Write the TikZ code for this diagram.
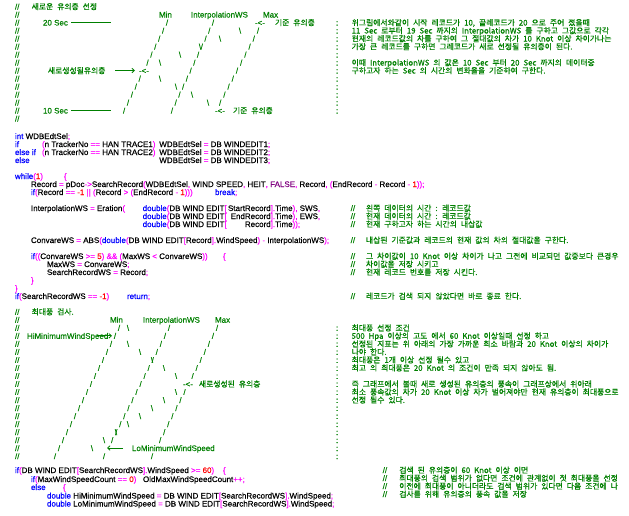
\documentclass[tikz,border=0pt]{standalone}
\usepackage{fontspec}
\setmainfont{Liberation Sans}[FakeBold=0.3]
\newfontfamily\kr{Noto Sans CJK KR}[FakeBold=0.6]
\usetikzlibrary{arrows.meta}
\definecolor{cgr}{RGB}{0,128,0}
\definecolor{cbl}{RGB}{0,0,255}
\definecolor{cmg}{RGB}{255,0,255}
\definecolor{crd}{RGB}{255,0,0}
\definecolor{cpu}{RGB}{128,0,128}
\newcommand\kw[1]{\textcolor{cbl}{#1}}
\newcommand\opr[1]{\textcolor{cmg}{#1}}
\newcommand\nm[1]{\textcolor{crd}{#1}}
\newcommand\pu[1]{\textcolor{cpu}{#1}}
\newcommand\krsp{\spaceskip=4pt plus 1pt\relax}
\tikzset{
 code/.style={anchor=base west, inner sep=0pt, outer sep=0pt, font=\fontsize{8}{9}\selectfont, text=black},
 grn/.style={code, text=cgr},
 kor/.style={code, text=cgr, font=\kr\fontsize{7.8}{9}\selectfont\krsp},
 sl/.style={anchor=base, inner sep=0pt, outer sep=0pt, text=cgr, font=\fontsize{8}{9}\selectfont},
 rl/.style={draw=cgr, line width=0.8pt},
 ra/.style={rl, -{Straight Barb[length=2.5pt,width=4.5pt]}},
}
\begin{document}
\begin{tikzpicture}[x=1pt,y=-1pt]
\fill[white] (0,0) rectangle (629,515);
\useasboundingbox (0,0) rectangle (629,515);

% ---------------- section 1 : diagram ----------------
\foreach \i in {0,...,14} \node[grn] (ca\i) at (15,{9.5+8*\i}) {//};
\node[kor] (t0) at (31.7,9.5) {새로운 유의층 선정};
\node[grn] (lmin1) at (159,17.5) {Min};
\node[grn] (lint1) at (191,17.5) {InterpolationWS};
\node[grn] (lmax1) at (263,17.5) {Max};
\node[grn] (s20) at (43,25.5) {20 Sec};
\coordinate (s20a) at (71,22.5); \coordinate (s20b) at (111,22.5);
\draw[rl] (s20a) -- (s20b);
\node[grn] (ar1) at (255,25.5) {-<-};
\node[kor] (k1) at (275,25.5) {기준 유의층};
\node[kor] (k2) at (48,73.5) {새로생성될유의층};
\coordinate (a2a) at (115,70.5); \coordinate (a2b) at (135,70.5);
\draw[ra] (a2a) -- (a2b);
\node[grn] (ar2) at (139,73.5) {-<-};
\node[grn] (s10) at (43,113.5) {10 Sec};
\coordinate (s10a) at (71,110.5); \coordinate (s10b) at (111,110.5);
\draw[rl] (s10a) -- (s10b);
\node[grn] (ar3) at (215,113.5) {-<-};
\node[kor] (k3) at (233,113.5) {기준 유의층};
\foreach \i in {2,3,4,5,6,7,9,10,11,12,13}
  \node[sl] (mn\i) at ({167-(\i-2)*3.9},{9.5+8*\i}) {/};
\foreach \i in {2,...,13}
  \node[sl] (it\i) at ({213-(\i-2)*3.73},{9.5+8*\i}) {/};
\foreach \i in {3,...,12}
  \node[sl] (mx\i) at ({258-(\i-3)*4.2},{9.5+8*\i}) {/};
\foreach \i in {3,...,7}
  \node[sl] (bu\i) at ({240-(\i-3)*20},{9.5+8*\i}) {\textbackslash};
\foreach \i in {9,...,12}
  \node[sl] (bl\i) at ({160+(\i-9)*16},{9.5+8*\i}) {\textbackslash};
\foreach \i in {2,...,13} \node[grn] (cc\i) at (336,{9.5+8*\i}) {:};
\node[kor] (e2) at (351.7,25.5) {위그림에서와같이 시작 레코드가 10, 끝레코드가 20 으로 주어 졌을때};
\node[kor] (e3) at (351.7,33.5) {11 Sec 로부터 19 Sec 까지의 InterpolationWS 를 구하고 그값으로 각각};
\node[kor] (e4) at (351.7,41.5) {현재의 레코드값의 차를 구하여 그 절대값의 차가 10 Knot 이상 차이가나는};
\node[kor] (e5) at (351.7,49.5) {가장 큰 레코드를 구하면 그레코드가 새로 선정될 유의층이 된다.};
\node[kor] (e7) at (351.7,65.5) {이때 InterpolationWS 의 값은 10 Sec 부터 20 Sec 까지의 데이터중};
\node[kor] (e8) at (351.7,73.5) {구하고자 하는 Sec 의 시간의 변화율을 기준하여 구한다.};

% ---------------- section 2 : code ----------------
\node[code] (c16) at (15,139) {\kw{int} WDBEdtSel\opr{;}};
\node[code] (c17a) at (15,147) {\kw{if}};
\node[code] (c17b) at (42,147) {\opr{(}n TrackerNo \opr{==} HAN TRACE1\opr{)}};
\node[code] (c17c) at (159.3,147) {WDBEdtSel \opr{=} DB WINDEDIT1\opr{;}};
\node[code] (c18a) at (15,155) {\kw{else if}};
\node[code] (c18b) at (42,155) {\opr{(}n TrackerNo \opr{==} HAN TRACE2\opr{)}};
\node[code] (c18c) at (159.3,155) {WDBEdtSel \opr{=} DB WINDEDIT2\opr{;}};
\node[code] (c19a) at (15,163) {\kw{else}};
\node[code] (c19c) at (159.3,163) {WDBEdtSel \opr{=} DB WINDEDIT3\opr{;}};

\node[code] (c21a) at (15,179) {\kw{while}\opr{(}\nm{1}\opr{)}};
\node[code] (c21b) at (64,179) {\opr{\{}};
\node[code] (c22) at (31,187) {Record \opr{=} pDoc\opr{->}SearchRecord\opr{(}WDBEdtSel\opr{,} WIND SPEED\opr{,} HEIT\opr{,} \pu{FALSE}\opr{,} Record\opr{,} \opr{(}EndRecord \opr{-} Record \opr{-} \nm{1}\opr{));}};
\node[code] (c23a) at (31,195) {\kw{if}\opr{(}Record \opr{==} \nm{-1} \opr{||} \opr{(}Record \opr{>} \opr{(}EndRecord \opr{-} \nm{1}\opr{)))}};
\node[code] (c23b) at (215,195) {\kw{break}\opr{;}};

\node[code] (c25a) at (31,211) {InterpolationWS \opr{=} Eration\opr{(}};
\node[code] (c25b) at (142.7,211) {\kw{double}\opr{(}DB WIND EDIT\opr{[}};
\node[code,anchor=base east] (c25c) at (270.7,211) {StartRecord};
\node[code] (c25d) at (270.7,211) {\opr{].}Time\opr{),} SWS\opr{,}};
\node[code] (c26b) at (142.7,219) {\kw{double}\opr{(}DB WIND EDIT\opr{[}};
\node[code,anchor=base east] (c26c) at (270.7,219) {EndRecord};
\node[code] (c26d) at (270.7,219) {\opr{].}Time\opr{),} EWS\opr{,}};
\node[code] (c27b) at (142.7,227) {\kw{double}\opr{(}DB WIND EDIT\opr{[}};
\node[code,anchor=base east] (c27c) at (270.7,227) {Record};
\node[code] (c27d) at (270.7,227) {\opr{].}Time\opr{));}};

\node[code] (c29) at (31,243) {ConvareWS \opr{=} ABS\opr{(}\kw{double}\opr{(}DB WIND EDIT\opr{[}Record\opr{].}WindSpeed\opr{)} \opr{-} InterpolationWS\opr{);}};
\node[code] (c31a) at (31,259) {\kw{if}\opr{((}ConvareWS \opr{>=} \nm{5}\opr{)} \opr{\&\&} \opr{(}MaxWS \opr{<} ConvareWS\opr{))}};
\node[code] (c31b) at (223,259) {\opr{\{}};
\node[code] (c32) at (47,267) {MaxWS \opr{=} ConvareWS\opr{;}};
\node[code] (c33) at (47,275) {SearchRecordWS \opr{=} Record\opr{;}};
\node[code] (c34) at (31,283) {\opr{\}}};
\node[code] (c35) at (15,291) {\opr{\}}};
\node[code] (c36a) at (15,299) {\kw{if}\opr{(}SearchRecordWS \opr{==} \nm{-1}\opr{)}};
\node[code] (c36b) at (127,299) {\kw{return}\opr{;}};

\foreach \r/\t in {211/왼쪽 데이터의 시간 : 레코드값,
                   219/현재 데이터의 시간 : 레코드값,
                   227/현재 구하고자 하는 시간의 내삽값,
                   243/내삽된 기준값과 레코드의 현재 값의 차의 절대값을 구한다.,
                   259/그 차이값이 10 Knot 이상 차이가 나고 그전에 비교되던 값중보다 큰경우,
                   267/차이값을 저장 시키고,
                   275/현재 레코드 번호를 저장 시킨다.,
                   299/레코드가 검색 되지 않았다면 바로 종료 한다.}
  {\node[grn] (cs\r) at (350.7,\r) {//};
   \node[kor] (ct\r) at (366,\r) {\t};}

% ---------------- section 3 : diagram ----------------
\foreach \i in {38,...,56} \node[grn] (cb\i) at (15,{314.7+8.02*(\i-38)}) {//};
\node[kor] (t38) at (31.7,314.7) {최대풍 검사.};
\node[grn] (lmin3) at (110,322.7) {Min};
\node[grn] (lint3) at (143,322.7) {InterpolationWS};
\node[grn] (lmax3) at (215,322.7) {Max};
\node[grn] (hmw) at (27,338.8) {HiMinimumWindSpeed};
\coordinate (h1) at (97,335.8); \coordinate (h2) at (112,335.8);
\draw[ra] (h1) -- (h2);
\node[grn] (ar4) at (183,386.9) {-<-};
\node[kor] (k4) at (199,386.9) {새로생성된 유의층};
\coordinate (l1) at (123,448); \coordinate (l2) at (107,448);
\draw[ra] (l1) -- (l2);
\node[grn] (lmw) at (132,451) {LoMinimumWindSpeed};
\foreach \i in {40,...,56}
  \node[sl] (mm\i) at ({119-(\i-40)*4},{314.7+8.02*(\i-38)}) {/};
\foreach \i in {40,...,54,56}
  \node[sl] (ii\i) at ({169-(\i-40)*4.06},{314.7+8.02*(\i-38)}) {/};
\foreach \i in {40,...,46,48,49,50,51,52,53,54,56}
  \node[sl] (xx\i) at ({217-(\i-40)*4.06},{314.7+8.02*(\i-38)}) {/};
\node[sl] (bb40) at (128,330.8) {\textbackslash};
\foreach \i in {42,...,46}
  \node[sl] (bd\i) at ({128+(\i-42)*12},{314.7+8.02*(\i-38)}) {\textbackslash};
\foreach \i in {48,...,55}
  \node[sl] (be\i) at ({176-(\i-48)*12},{314.7+8.02*(\i-38)}) {\textbackslash};
\foreach \i in {40,...,56} \node[grn] (cd\i) at (336,{314.7+8.02*(\i-38)}) {:};
\node[kor] (f40) at (351.7,330.8) {최대풍 선정 조건};
\node[kor] (f41) at (351.7,338.8) {500 Hpa 이상의 고도 에서 60 Knot 이상일때 선정 하고};
\node[kor] (f42) at (351.7,346.8) {선정된 지표는 위 아래의 가장 가까운 최소 바람과 20 Knot 이상의 차이가};
\node[kor] (f43) at (351.7,354.8) {나야 한다.};
\node[kor] (f44) at (351.7,362.8) {최대풍은 1개 이상 선정 될수 있고};
\node[kor] (f45) at (351.7,370.8) {최고 의 최대풍은 20 Knot 의 조건이 만족 되지 않아도 됨.};
\node[kor] (f47) at (351.7,386.9) {즉 그래프에서 볼때 새로 생성된 유의층의 풍속이 그래프상에서 위아래};
\node[kor] (f48) at (351.7,394.9) {최소 풍속값의 차가 20 Knot 이상 차가 벌어져야만 현재 유의층이 최대풍으로};
\node[kor] (f49) at (351.7,402.9) {선정 될수 있다.};

% ---------------- section 4 : code ----------------
\node[code] (c57a) at (15,473) {\kw{if}\opr{(}DB WIND EDIT\opr{[}SearchRecordWS\opr{].}WindSpeed \opr{>=} \nm{60}\opr{)}};
\node[code] (c57b) at (223,473) {\opr{\{}};
\node[code] (c58a) at (31,482) {\kw{if}\opr{(}MaxWindSpeedCount \opr{==} \nm{0}\opr{)}};
\node[code] (c58b) at (143,482) {OldMaxWindSpeedCount\opr{++;}};
\node[code] (c59a) at (31,490) {\kw{else}};
\node[code] (c59b) at (63,490) {\opr{\{}};
\node[code] (c60) at (47,498.5) {\kw{double} HiMinimumWindSpeed \opr{=} DB WIND EDIT\opr{[}SearchRecordWS\opr{].}WindSpeed\opr{;}};
\node[code] (c61) at (47,506.5) {\kw{double} LoMinimumWindSpeed \opr{=} DB WIND EDIT\opr{[}SearchRecordWS\opr{].}WindSpeed\opr{;}};
\foreach \r/\t in {473/검색 된 유의층이 60 Knot 이상 이면,
                   481/최대풍의 검색 범위가 없다면 조건에 관계없이 첫 최대풍을 선정,
                   489/이전에 최대풍이 아니더라도 검색 범위가 있다면 다음 조건에 나,
                   497/검사를 위해 유의층의 풍속 값을 저장}
  {\node[grn] (ds\r) at (382.7,\r) {//};
   \node[kor] (dt\r) at (399.3,\r) {\t};}
\end{tikzpicture}
\end{document}
